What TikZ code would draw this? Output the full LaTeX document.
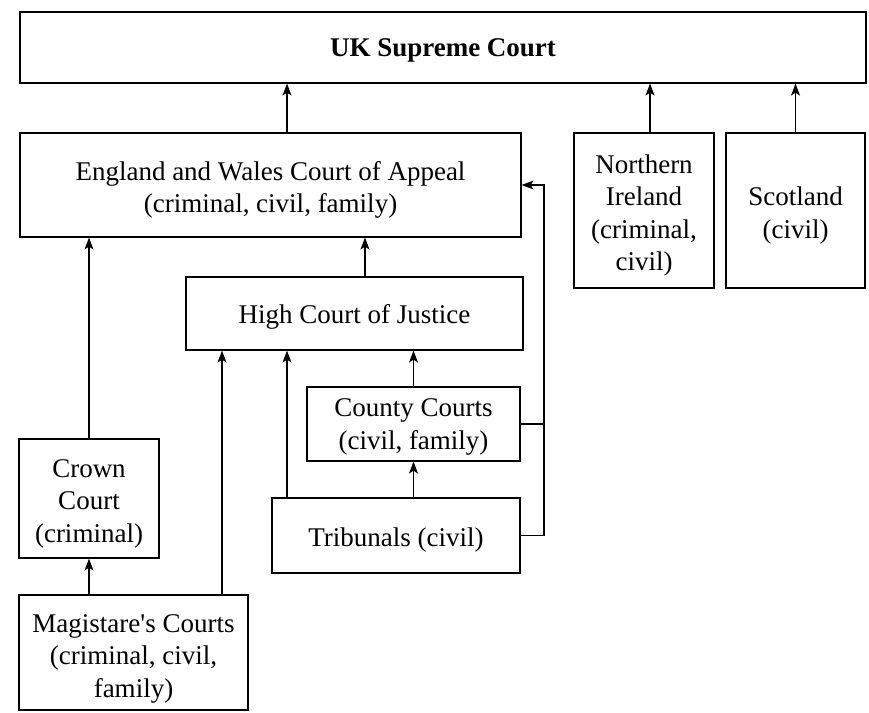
\documentclass[tikz,border=0pt]{standalone}
\usepackage{fontspec}
\setmainfont{Liberation Serif}
\usetikzlibrary{arrows.meta}
\begin{document}
\begin{tikzpicture}[x=1pt,y=-1pt,
  box/.style={draw, line width=1.2pt, inner sep=0pt},
  lbl/.style={align=center, inner sep=0pt, yshift=-5pt,
    font=\fontsize{27}{32.5}\selectfont},
  arr/.style={line width=1.2pt, -{Stealth[length=12pt,width=9pt,inset=3pt]}},
  ln/.style={line width=1.2pt}]
\useasboundingbox (0,0) rectangle (869,712);
\node[box, minimum width=846, minimum height=71, label={[lbl, yshift=2pt, font=\fontsize{27}{32.5}\selectfont\bfseries]center:UK Supreme Court}] (sup) at (443,47.5) {};
\node[box, minimum width=501, minimum height=104, label={[lbl]center:{England and Wales Court of Appeal\\(criminal, civil, family)}}] (coa) at (270.5,185) {};
\node[box, minimum width=140, minimum height=155, label={[lbl]center:{Northern\\Ireland\\(criminal,\\civil)}}] (ni) at (644,210.5) {};
\node[box, minimum width=139, minimum height=155, label={[lbl]center:{Scotland\\(civil)}}] (sco) at (795.5,210.5) {};
\node[box, minimum width=337, minimum height=73, label={[lbl, yshift=2pt]center:High Court of Justice}] (high) at (354.5,313.5) {};
\node[box, minimum width=213, minimum height=74, label={[lbl, yshift=2pt]center:{County Courts\\(civil, family)}}] (county) at (413.5,424) {};
\node[box, minimum width=248, minimum height=75, label={[lbl, yshift=1pt]center:Tribunals (civil)}] (trib) at (396,535.5) {};
\node[box, minimum width=140, minimum height=119, label={[lbl]center:{Crown\\Court\\(criminal)}}] (crown) at (89,498.5) {};
\node[box, minimum width=229, minimum height=115, label={[lbl, yshift=-1pt]center:{Magistare\textquotesingle s Courts\\(criminal, civil,\\family)}}] (mag) at (133.5,652.5) {};
\coordinate (bus) at (544,0);
% connectors
\draw[arr] ([xshift=16.5]coa.north) -- ([xshift=16.5]coa.north |- sup.south);
\draw[arr] ([xshift=6]ni.north) -- ([xshift=6]ni.north |- sup.south);
\draw[arr] (sco.north) -- (sco.north |- sup.south);
\draw[arr] ([xshift=10.5]high.north) -- ([xshift=10.5]high.north |- coa.south);
\draw[arr] (county.north) -- (county.north |- high.south);
\draw[arr] (county.south |- trib.north) -- (county.south);
\draw[arr] ([xshift=-109]trib.north) -- ([xshift=-109]trib.north |- high.south);
\draw[arr] (crown.north) -- (crown.north |- coa.south);
\draw[arr] (crown.south |- mag.north) -- (crown.south);
\draw[arr] ([xshift=88.5]mag.north) -- ([xshift=88.5]mag.north |- high.south);
\draw[ln] (county.east) -- (county.east -| bus);
\draw[arr] (trib.east) -- (trib.east -| bus) |- (coa.east);
\end{tikzpicture}
\end{document}
